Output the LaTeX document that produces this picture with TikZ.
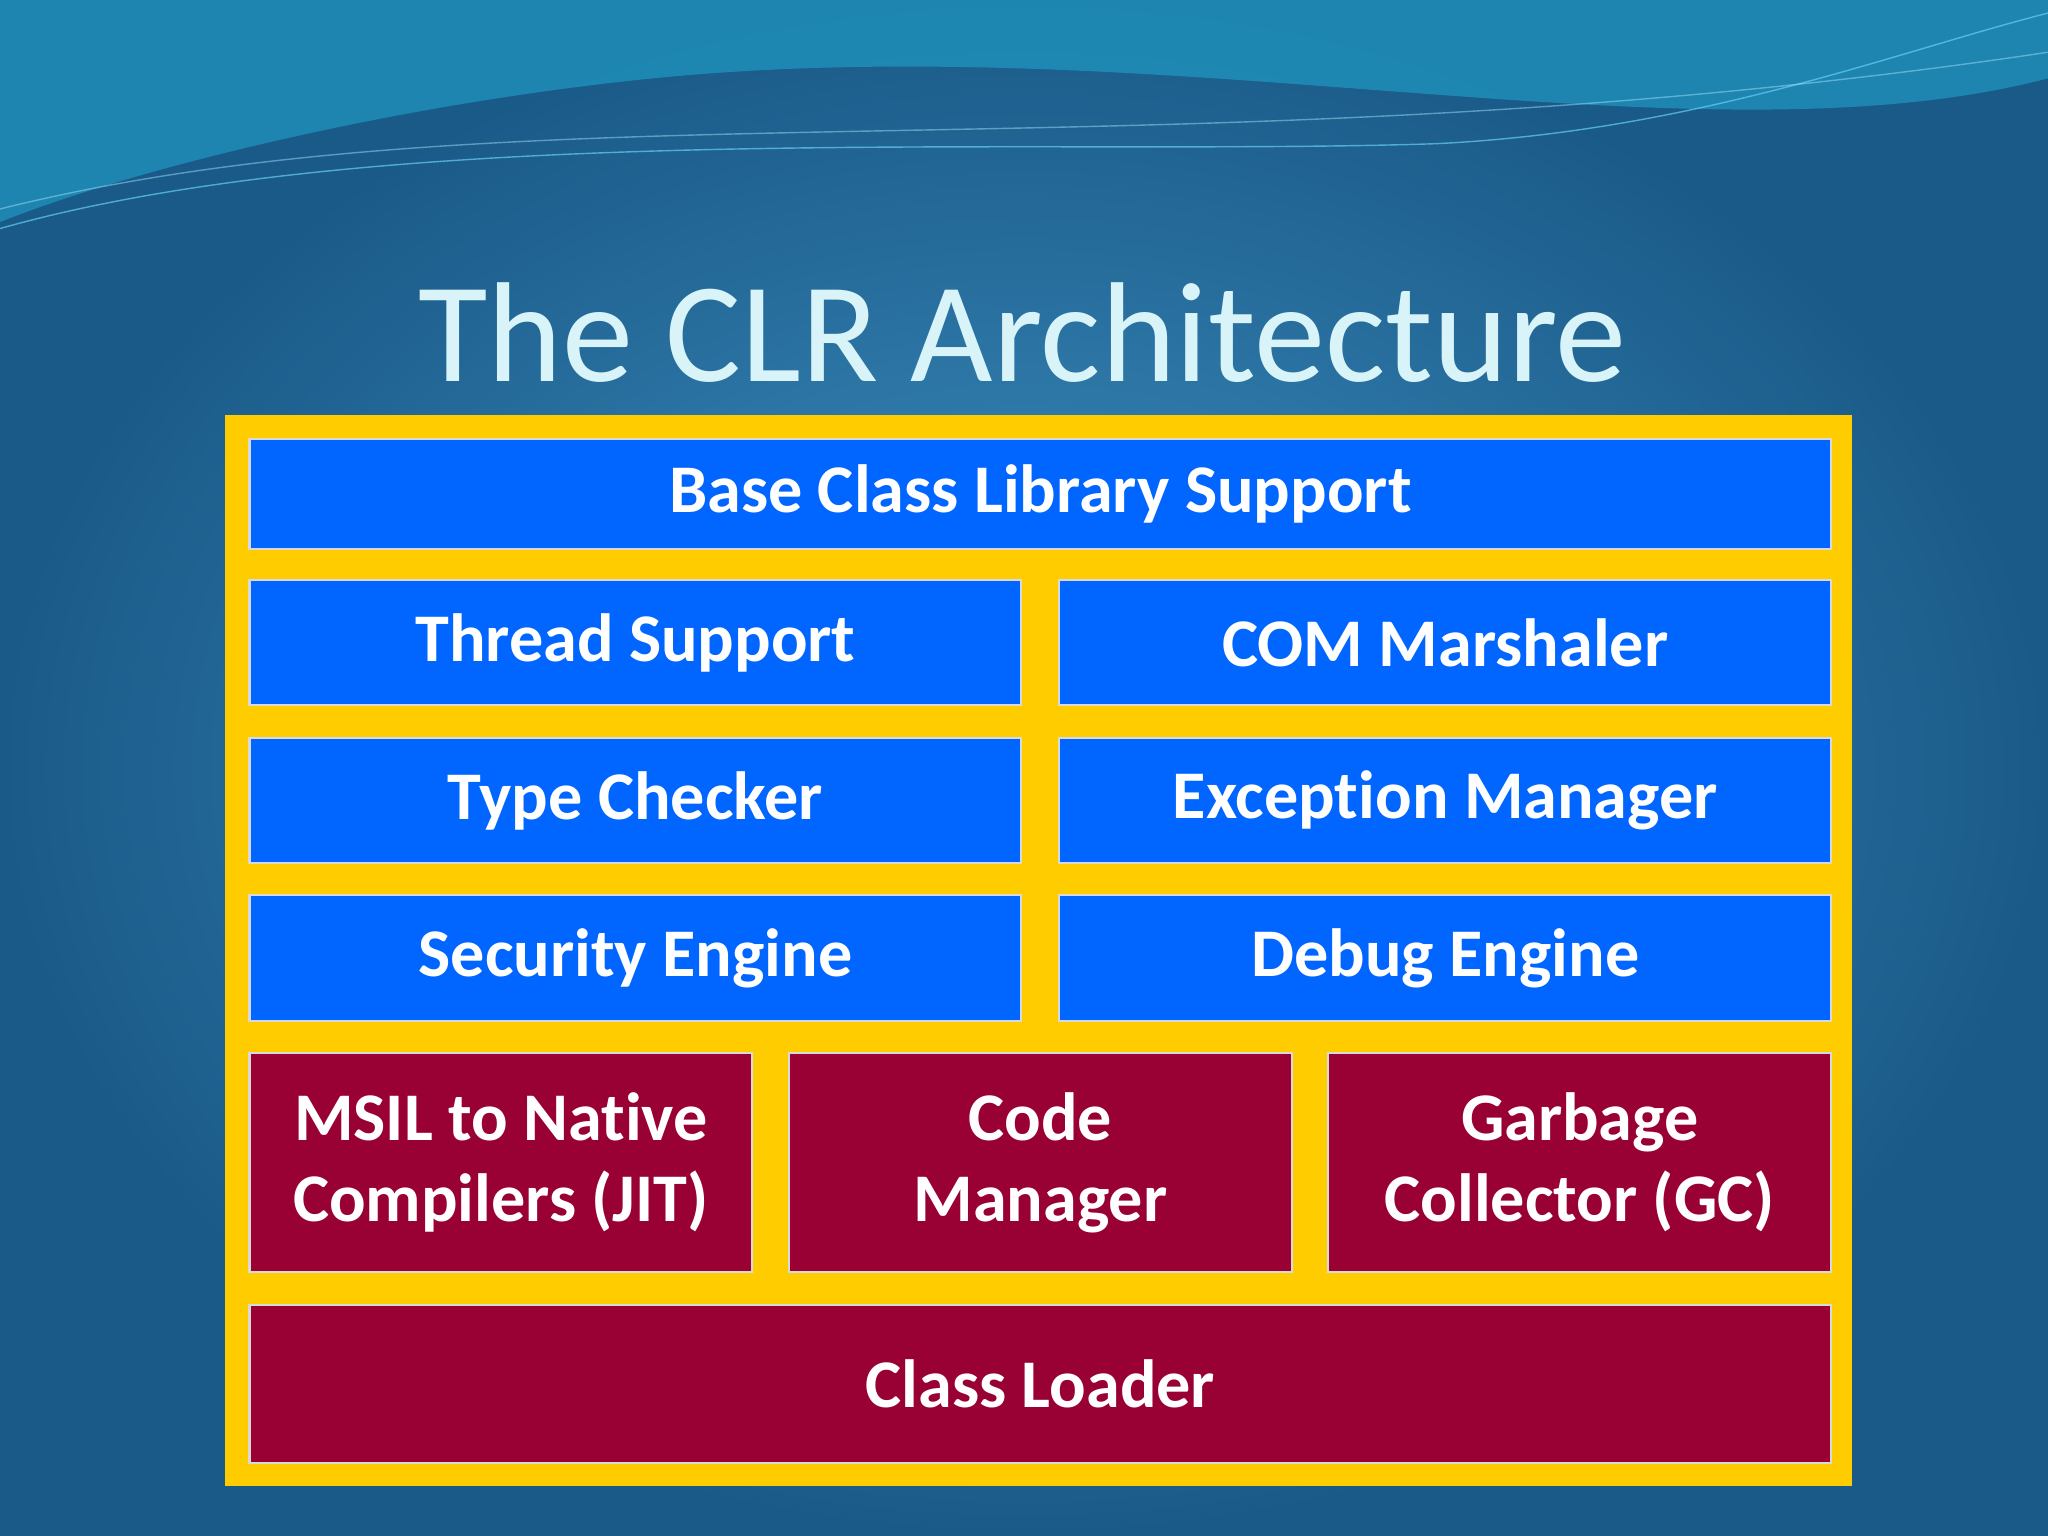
\documentclass[tikz,border=0pt]{standalone}
\usepackage{fontspec}
\setmainfont[Ligatures=NoCommon]{Carlito}
\usetikzlibrary{positioning}
\definecolor{bgdark}{HTML}{1A5A88}
\definecolor{bglight}{HTML}{3F92C4}
\definecolor{wave}{HTML}{1FA3CC}
\definecolor{frameyellow}{HTML}{FFCC00}
\definecolor{boxblue}{HTML}{0066FF}
\definecolor{boxred}{HTML}{990033}
\definecolor{titlecyan}{HTML}{D8F4F8}
\begin{document}
\begin{tikzpicture}[x=0.013061cm,y=-0.013061cm,
    % Define styles
    layer/.style={draw=white!85!black, line width=0.6pt, text=white,
      font=\bfseries\fontsize{19.4}{23}\selectfont, align=center, inner sep=0pt},
    bluebox/.style={layer, fill=boxblue},
    redbox/.style={layer, fill=boxred}]
  % Background
  \shade[inner color=bglight, outer color=bgdark] (0,0) rectangle (1568,1176);
  \useasboundingbox (0,0) rectangle (1568,1176);
  \fill[wave, opacity=0.6] (0,0) -- (1568,0) -- (1568,60)
    .. controls (1300,130) and (900,20) .. (500,60)
    .. controls (300,80) and (100,130) .. (0,170) -- cycle;
  \draw[cyan!60, opacity=0.7] (0,175) .. controls (300,90) and (800,120) .. (1100,110)
    .. controls (1300,100) and (1450,40) .. (1568,10);
  \draw[cyan!40, opacity=0.5] (0,160) .. controls (400,60) and (900,140) .. (1568,40);
  % Title
  \node[text=titlecyan, font=\fontsize{40.5}{46}\selectfont] (title) at (783,255) {The CLR Architecture};
  % Frame
  \fill[frameyellow] (172,318) rectangle (1418,1138);
  % Layers
  \node[bluebox, minimum width=1211*0.013061cm, minimum height=84*0.013061cm] (bcl) at (796.5,378) {Base Class Library Support};
  \node[bluebox, minimum width=591*0.013061cm, minimum height=96*0.013061cm] (thread) at (486.5,492) {Thread Support};
  \node[bluebox, minimum width=591*0.013061cm, minimum height=96*0.013061cm] (com) at (1106.5,492) {COM Marshaler};
  \node[bluebox, minimum width=591*0.013061cm, minimum height=96*0.013061cm] (type) at (486.5,613) {Type Checker};
  \node[bluebox, minimum width=591*0.013061cm, minimum height=96*0.013061cm] (exc) at (1106.5,613) {Exception Manager};
  \node[bluebox, minimum width=591*0.013061cm, minimum height=96*0.013061cm] (sec) at (486.5,733.5) {Security Engine};
  \node[bluebox, minimum width=591*0.013061cm, minimum height=96*0.013061cm] (dbg) at (1106.5,733.5) {Debug Engine};
  \node[redbox, minimum width=385*0.013061cm, minimum height=168*0.013061cm] (jit) at (383.5,890) {MSIL to Native\\Compilers (JIT)};
  \node[redbox, minimum width=385*0.013061cm, minimum height=168*0.013061cm] (code) at (796.5,890) {Code\\Manager};
  \node[redbox, minimum width=385*0.013061cm, minimum height=168*0.013061cm] (gc) at (1209.5,890) {Garbage\\Collector (GC)};
  \node[redbox, minimum width=1211*0.013061cm, minimum height=121*0.013061cm] (loader) at (796.5,1059.5) {Class Loader};
\end{tikzpicture}
\end{document}
